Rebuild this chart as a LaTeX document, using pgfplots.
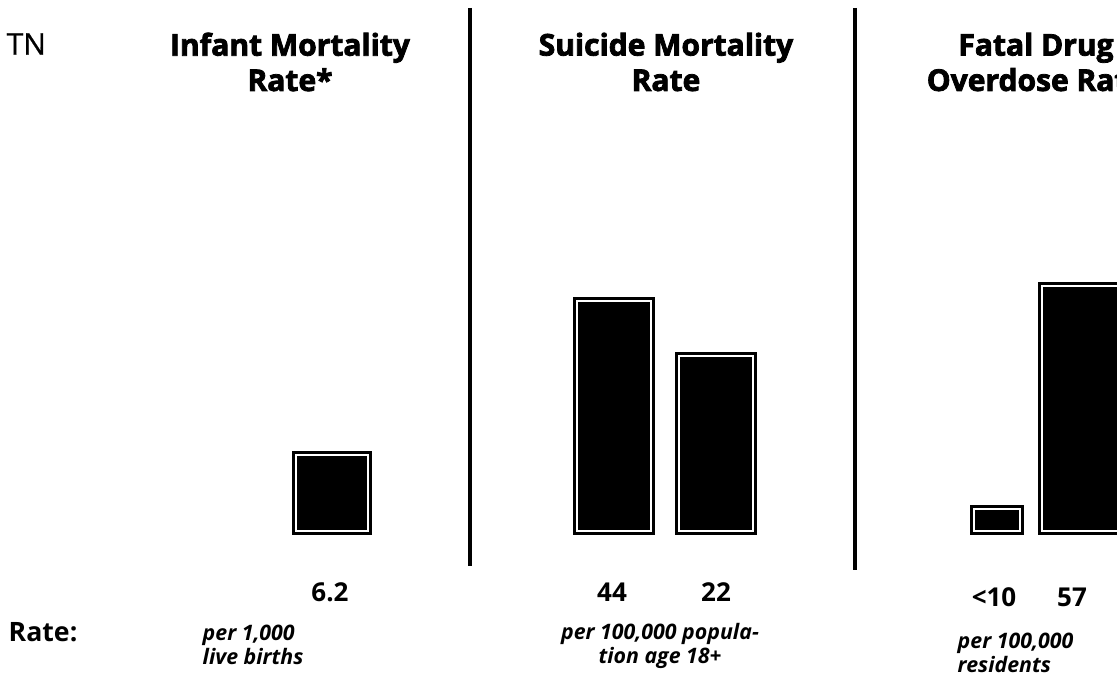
\documentclass[border=0pt]{standalone}
\usepackage{fontspec}
\setmainfont{Open Sans}
\newfontfamily\heavy{Open Sans}[BoldFeatures={FakeBold=2.6}]
\newfontfamily\tnfont{Open Sans}[FakeBold=0.5]
\usepackage{pgfplots}
\pgfplotsset{compat=1.18}
\begin{document}
\begin{tikzpicture}
\useasboundingbox (0,0) rectangle (837.75pt,519pt);
\clip (0,0) rectangle (837.75pt,519pt);
\begin{axis}[at={(0,0)},anchor=south west, scale only axis,
  width=837.75pt, height=519pt, xmin=0, xmax=1117, ymin=-161, ymax=531,
  axis lines=none, ticks=none, ybar, bar shift=0pt, clip=false,
  outer/.style={fill=black,draw=black,line width=6pt},
  inner/.style={fill=none,draw=white,line width=1.1pt}]
% Infant mortality
\addplot[outer, bar width=72] coordinates {(332,76)};
\addplot[inner, bar width=72] coordinates {(332,76)};
% Suicide mortality
\addplot[outer, bar width=74] coordinates {(614,230) (716,175)};
\addplot[inner, bar width=74] coordinates {(614,230) (716,175)};
% Fatal drug overdose
\addplot[outer, bar width=46] coordinates {(997,22)};
\addplot[inner, bar width=46] coordinates {(997,22)};
\addplot[outer, bar width=76] coordinates {(1080,245)};
\addplot[inner, bar width=76] coordinates {(1080,245)};
% separators
\draw[line width=2.4pt] (axis cs:470,523) -- (axis cs:470,-35);
\draw[line width=2.4pt] (axis cs:855,523) -- (axis cs:855,-39);
% texts
\node[anchor=west, font=\tnfont\fontsize{22.5}{25}\selectfont] at (axis cs:2,487) {TN};
\node[align=center, font=\heavy\bfseries\fontsize{22.5}{26.5}\selectfont] at (axis cs:290,469) {Infant Mortality\\Rate*};
\node[align=center, font=\heavy\bfseries\fontsize{22.5}{26.5}\selectfont] at (axis cs:666,469) {Suicide Mortality\\Rate};
\node[align=center, font=\heavy\bfseries\fontsize{22.5}{26.5}\selectfont] at (axis cs:1036,469) {Fatal Drug\\Overdose Rate};
\node[font=\bfseries\fontsize{19.5}{22}\selectfont] at (axis cs:330,-61) {6.2};
\node[font=\bfseries\fontsize{19.5}{22}\selectfont] at (axis cs:612,-61) {44};
\node[font=\bfseries\fontsize{19.5}{22}\selectfont] at (axis cs:716,-61) {22};
\node[font=\bfseries\fontsize{19.5}{22}\selectfont] at (axis cs:994,-66) {<10};
\node[font=\bfseries\fontsize{19.5}{22}\selectfont] at (axis cs:1072,-66) {57};
\node[anchor=west, font=\bfseries\fontsize{20}{23}\selectfont] at (axis cs:4,-101) {Rate:};
\node[anchor=west, align=left, font=\bfseries\itshape\fontsize{16}{17.5}\selectfont] at (axis cs:198,-114) {per 1,000\\live births};
\node[align=center, font=\bfseries\itshape\fontsize{16}{17.5}\selectfont] at (axis cs:660,-115) {per 100,000 popula-\\tion age 18+};
\node[anchor=west, align=left, font=\bfseries\itshape\fontsize{16}{17.5}\selectfont] at (axis cs:953,-122) {per 100,000\\residents};
\end{axis}
\end{tikzpicture}
\end{document}
